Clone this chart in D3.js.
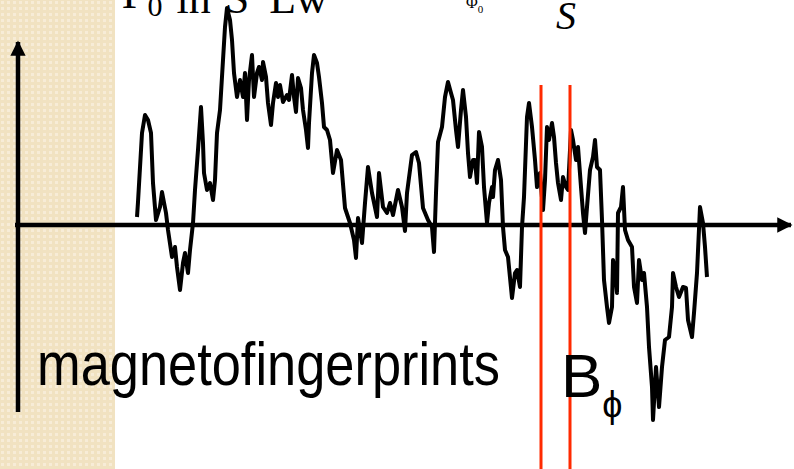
<!DOCTYPE html>
<html lang="en">
<head>
    <meta charset="UTF-8">
    <title>magnetofingerprints</title>
    <script src="https://d3js.org/d3.v7.min.js"></script>
    <style>
        body { margin: 0; background: #fff; }
        .trace { fill: none; stroke: #000; stroke-width: 4px; stroke-linejoin: round; }
        .axis-line { stroke: #000; stroke-width: 4.5px; }
        .window { stroke: #ff2a00; stroke-width: 3px; }
        .sans { font-family: "Liberation Sans", Arial, sans-serif; }
        .serif { font-family: "Liberation Serif", "Times New Roman", serif; }
    </style>
</head>
<body>
    <svg id="chart" width="794" height="469"></svg>
    <script>
        // magnetoresistance trace: sample position and field value (0 = axis)
        const sampleT = [
            0, 1, 5, 8, 11, 14, 16, 19, 23, 25,
            29, 31, 35, 38, 40, 43, 46, 48, 51, 53,
            56, 58, 61, 64, 66, 67, 70, 73, 76, 78,
            80, 83, 86, 88, 90, 93, 95, 97, 100, 103,
            106, 108, 110, 112, 115, 117, 120, 122, 125, 126,
            129, 131, 134, 136, 139, 141, 143, 146, 150, 152,
            155, 157, 159, 161, 164, 166, 169, 171, 172, 175,
            177, 180, 182, 185, 187, 190, 193, 196, 200, 204,
            208, 213, 217, 219, 221, 225, 228, 231, 235, 240,
            242, 246, 250, 253, 256, 261, 265, 268, 270, 275,
            279, 282, 286, 291, 295, 297, 299, 301, 305, 308,
            311, 314, 316, 319, 321, 324, 326, 329, 331, 333,
            336, 338, 340, 342, 345, 347, 350, 352, 355, 356,
            358, 361, 364, 366, 368, 371, 375, 378, 380, 383,
            385, 387, 390, 392, 395, 398, 400, 403, 406, 408,
            410, 412, 415, 417, 419, 421, 424, 426, 429, 431,
            434, 436, 439, 441, 444, 446, 448, 450, 453, 456,
            458, 460, 463, 465, 467, 470, 472, 475, 476, 478,
            480, 481, 484, 486, 488, 491, 495, 497, 500, 502,
            505, 507, 510, 512, 515, 516, 519, 522, 525, 528,
            532, 535, 536, 539, 542, 546, 549, 551, 555, 557,
            560, 563, 566, 568, 570
        ];
        const fieldB = [
            8, 23, 92, 110, 105, 92, 42, 5, 18, 33,
            12, -5, -32, -22, -42, -65, -38, -28, -48, -25,
            2, 35, 75, 118, 82, 52, 35, 42, 25, 45,
            92, 115, 165, 198, 217, 205, 185, 152, 128, 145,
            128, 152, 105, 145, 170, 128, 152, 158, 145, 163,
            148, 122, 100, 122, 142, 128, 140, 123, 130, 125,
            150, 128, 113, 147, 137, 115, 95, 77, 102, 152,
            170, 162, 148, 122, 98, 95, 85, 52, 75, 65,
            17, 2, -15, -33, 7, -18, 22, 58, 32, 8,
            52, 18, 12, 22, 10, 35, 18, -6, 32, 70,
            73, 62, 17, 5, -2, -27, 32, 83, 98, 128,
            143, 132, 125, 95, 78, 115, 135, 108, 72, 48,
            65, 65, 42, 93, 78, 38, 2, 22, 38, 28,
            55, 65, 45, -2, -25, -32, -73, -48, -45, -62,
            -2, 28, 108, 122, 98, 65, 38, 52, 15, 45,
            98, 85, 102, 88, 62, 42, 25, 48, 38, 35,
            95, 85, 65, 78, 38, 12, -8, 18, 55, 68,
            85, 58, 55, 5, -55, -82, -98, -82, -35, -45,
            -68, 12, 18, 38, -5, -15, -22, -62, -78, -35,
            -55, -48, -82, -122, -162, -195, -142, -182, -142, -115,
            -112, -82, -48, -62, -72, -62, -63, -95, -112, -88,
            -48, 18, 2, -22, -52
        ];
        // the two red lines mark a window on the sample axis
        const windowEdges = [404, 433];

        const svg = d3.select('#chart');
        const width = +svg.attr('width');
        const height = +svg.attr('height');

        const x = d3.scaleLinear().domain([0, 570]).range([137, 707]);
        const y = d3.scaleLinear().domain([-200, 225]).range([425, 0]);

        // beige slide strip on the left
        const defs = svg.append('defs');
        const pat = defs.append('pattern')
            .attr('id', 'checks')
            .attr('width', 6).attr('height', 6)
            .attr('patternUnits', 'userSpaceOnUse');
        pat.append('rect').attr('width', 6).attr('height', 6).attr('fill', '#f1e2c1');
        pat.append('rect').attr('x', 1).attr('y', 1).attr('width', 3).attr('height', 3).attr('fill', '#f7ecd7');

        defs.append('marker')
            .attr('id', 'arrow')
            .attr('viewBox', '0 0 10 10')
            .attr('refX', 9).attr('refY', 5)
            .attr('markerWidth', 3.4).attr('markerHeight', 3.4)
            .attr('orient', 'auto')
            .append('path')
            .attr('d', 'M0,0L10,5L0,10Z')
            .attr('fill', '#000');

        svg.append('rect')
            .attr('width', 115).attr('height', height)
            .attr('fill', 'url(#checks)');

        // axes
        svg.append('line')
            .attr('class', 'axis-line')
            .attr('x1', 18).attr('y1', 412)
            .attr('x2', 18).attr('y2', 42)
            .attr('marker-end', 'url(#arrow)');
        svg.append('line')
            .attr('class', 'axis-line')
            .attr('x1', 15).attr('y1', y(0))
            .attr('x2', 791).attr('y2', y(0))
            .attr('marker-end', 'url(#arrow)');

        // trace
        const line = d3.line()
            .x(d => x(d[0]))
            .y(d => y(d[1]));
        svg.append('path')
            .datum(d3.zip(sampleT, fieldB))
            .attr('class', 'trace')
            .attr('d', line);

        // window lines
        svg.selectAll('line.window')
            .data(windowEdges)
            .join('line')
            .attr('class', 'window')
            .attr('x1', d => x(d)).attr('x2', d => x(d))
            .attr('y1', 85).attr('y2', height);

        // labels
        svg.append('text')
            .attr('class', 'sans')
            .attr('x', 37).attr('y', 385)
            .attr('font-size', 61)
            .attr('textLength', 463)
            .attr('lengthAdjust', 'spacingAndGlyphs')
            .text('magnetofingerprints');

        const bl = svg.append('text')
            .attr('class', 'sans')
            .attr('x', 561).attr('y', 397)
            .attr('font-size', 62);
        bl.append('tspan').text('B');
        bl.append('tspan')
            .attr('font-size', 36)
            .attr('dy', 20)
            .text('\u03d5');

        // title fragments cut by the top edge
        const t1 = svg.append('text')
            .attr('class', 'serif')
            .attr('x', 122).attr('y', 8)
            .attr('font-size', 44);
        t1.append('tspan').text('\u0393');
        t1.append('tspan').attr('font-size', 30).attr('dy', 8).text('0');
        t1.append('tspan').attr('dy', -3).attr('dx', 14).text('in');
        t1.append('tspan').attr('dx', 14).text('S');
        t1.append('tspan').attr('dx', 20).text('Lw');

        const t2 = svg.append('text')
            .attr('class', 'serif')
            .attr('x', 466).attr('y', 8)
            .attr('font-size', 16);
        t2.append('tspan').text('\u03a6');
        t2.append('tspan').attr('font-size', 11).attr('dy', 5).text('0');

        svg.append('text')
            .attr('class', 'serif')
            .attr('x', 556).attr('y', 29)
            .attr('font-size', 40)
            .attr('font-style', 'italic')
            .text('S');
    </script>
</body>
</html>
